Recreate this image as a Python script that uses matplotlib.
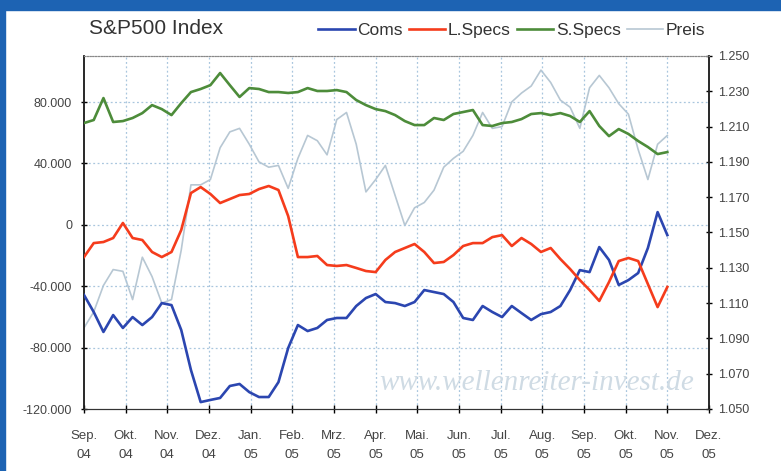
import numpy as np
import matplotlib
matplotlib.use("Agg")
import matplotlib.pyplot as plt
from matplotlib.patches import Rectangle
from matplotlib.ticker import FuncFormatter

# Monatsachse: Sep. 04 bis Dez. 05
months = ['Sep.\n04', 'Okt.\n04', 'Nov.\n04', 'Dez.\n04', 'Jan.\n05', 'Feb.\n05',
          'Mrz.\n05', 'Apr.\n05', 'Mai.\n05', 'Jun.\n05', 'Jul.\n05', 'Aug.\n05',
          'Sep.\n05', 'Okt.\n05', 'Nov.\n05', 'Dez.\n05']

# Wochenwerte
coms = [-45700, -56800, -69800, -58800, -67200, -60100, -65300, -60100, -51000, -52300,
        -68500, -94600, -115500, -114100, -112800, -105000, -103700, -109000, -112200, -112200,
        -102500, -80300, -65300, -69200, -67200, -62000, -60700, -60700, -52900, -47700,
        -45100, -50300, -51000, -52900, -50300, -42500, -43800, -45100, -50300, -60700,
        -62000, -52900, -56800, -60100, -52900, -57500, -62000, -58200, -56800, -52900,
        -42500, -29500, -30800, -14500, -22900, -39200, -36000, -31400, -15100, 8300,
        -6700]

l_specs = [-21000, -11900, -11200, -8600, 1200, -8600, -9900, -17700, -21000, -17700,
           -3400, 20700, 24600, 20100, 14200, 16800, 19400, 20100, 23300, 25300,
           22700, 5700, -21000, -21000, -20300, -26200, -26800, -26200, -28100, -30100,
           -30800, -22900, -17700, -15100, -12500, -17700, -24900, -24200, -19700, -13800,
           -11900, -11900, -8000, -6700, -13800, -8600, -12500, -17700, -15100, -22300,
           -28800, -36000, -42500, -49600, -37300, -23600, -21600, -23600, -38600, -53600,
           -40500]

s_specs = [66300, 68300, 82600, 67000, 67600, 69600, 72800, 78000, 75400, 71500,
           79300, 86500, 88500, 91000, 98900, 91000, 83300, 89100, 88500, 86500,
           86500, 85900, 86500, 89100, 87200, 87200, 87800, 86500, 81300, 78000,
           75400, 74100, 71500, 67600, 65000, 65000, 69600, 68300, 72200, 73500,
           74800, 65000, 64400, 66300, 67000, 68900, 72200, 72800, 71500, 72800,
           70900, 67000, 74100, 64400, 57800, 62400, 59200, 54600, 50700, 46100,
           47400]

preis = [1.096, 1.105, 1.120, 1.129, 1.128, 1.112, 1.136, 1.125, 1.110, 1.112,
         1.140, 1.177, 1.177, 1.180, 1.198, 1.207, 1.209, 1.200, 1.190, 1.187,
         1.188, 1.175, 1.192, 1.205, 1.202, 1.194, 1.214, 1.218, 1.200, 1.173,
         1.180, 1.188, 1.171, 1.154, 1.164, 1.167, 1.174, 1.187, 1.192, 1.196,
         1.205, 1.218, 1.209, 1.210, 1.224, 1.229, 1.233, 1.242, 1.235, 1.225,
         1.221, 1.209, 1.232, 1.239, 1.232, 1.223, 1.217, 1.197, 1.180, 1.200,
         1.205]

left_ticks = [-120000, -80000, -40000, 0, 40000, 80000]
right_ticks = [1.05, 1.07, 1.09, 1.11, 1.13, 1.15, 1.17, 1.19, 1.21, 1.23, 1.25]

# Wochen liegen gleichmaessig zwischen Sep. 04 und Nov. 05
x = np.linspace(0, 14, len(coms))

plt.rcParams['font.family'] = ['Liberation Sans', 'DejaVu Sans']

fig = plt.figure(figsize=(7.81, 4.71), dpi=100)
fig.patch.set_facecolor('white')
# blauer Rahmen oben und links
fig.patches.append(Rectangle((0, 1 - 10 / 471), 1, 10 / 471, transform=fig.transFigure,
                             color='#1d63b3', zorder=0))
fig.patches.append(Rectangle((0, 0), 5 / 781, 1, transform=fig.transFigure,
                             color='#1d63b3', zorder=0))

ax = fig.add_axes([84 / 781, 1 - 409 / 471, 625 / 781, 353 / 471])
ax2 = ax.twinx()

grid_col = '#a9c6de'
for m in range(1, len(months) - 1):
    ax.axvline(m, color=grid_col, lw=0.9, ls=(0, (1.5, 2)), zorder=1)
for t in left_ticks[1:]:
    ax.axhline(t, color=grid_col, lw=0.9, ls=(0, (1.5, 2)), zorder=1)

ax.plot(x, coms, color='#2b46b0', lw=1.9, label='Coms', zorder=3)
ax.plot(x, l_specs, color='#f53c1c', lw=1.9, label='L.Specs', zorder=3)
ax.plot(x, s_specs, color='#4d8c3a', lw=1.9, label='S.Specs', zorder=3)
ax2.plot(x, preis, color='#b7c7d3', lw=1.2, label='Preis', zorder=2)

ax.set_xlim(0, len(months) - 1)
ax.set_ylim(-120000, 110000)
ax2.set_ylim(1.05, 1.25)

ax.set_yticks(left_ticks)
ax.yaxis.set_major_formatter(FuncFormatter(lambda v, p: f"{v:,.0f}".replace(',', '.')))
ax2.set_yticks(right_ticks)
ax2.yaxis.set_major_formatter(FuncFormatter(lambda v, p: f"{v:.3f}"))
ax.set_xticks(range(len(months)))
ax.set_xticklabels(months, linespacing=1.8)

lab_col = '#444444'
ax.tick_params(axis='y', direction='inout', length=5, width=1, pad=6, labelsize=9, labelcolor=lab_col)
ax.tick_params(axis='x', direction='inout', length=6, width=1, pad=12, labelsize=9.5, labelcolor=lab_col)
ax2.tick_params(axis='y', direction='inout', length=5, width=1, pad=4, labelsize=9, labelcolor=lab_col)

for a in (ax, ax2):
    a.spines['top'].set_linestyle((0, (1, 1.5)))
    a.spines['top'].set_color('#888888')
    a.spines['left'].set_color('#222222')
    a.spines['right'].set_color('#222222')
    a.spines['bottom'].set_color('#333333')
    a.spines['left'].set_linewidth(1.1)
    a.spines['right'].set_linewidth(1.1)

ax.set_zorder(ax2.get_zorder() + 1)
ax.patch.set_visible(False)

ax.text(0.725, 0.075, 'www.wellenreiter-invest.de', transform=ax.transAxes,
        family=['Liberation Serif', 'DejaVu Serif'], style='italic', fontsize=21,
        color='#cfdbe4', ha='center', va='center', zorder=2)

fig.text(89 / 781, 1 - 28 / 471, 'S&P500 Index', fontsize=15, color='#333333',
         ha='left', va='center')

h1, l1 = ax.get_legend_handles_labels()
h2, l2 = ax2.get_legend_handles_labels()
fig.legend(h1 + h2, l1 + l2, loc='center right', bbox_to_anchor=(714 / 781, 1 - 30 / 471),
           ncol=4, frameon=False, fontsize=12.5, handlelength=2.1, handletextpad=0.15,
           columnspacing=0.35, borderpad=0, labelcolor='#333333')

fig.savefig('out.png', dpi=100)
